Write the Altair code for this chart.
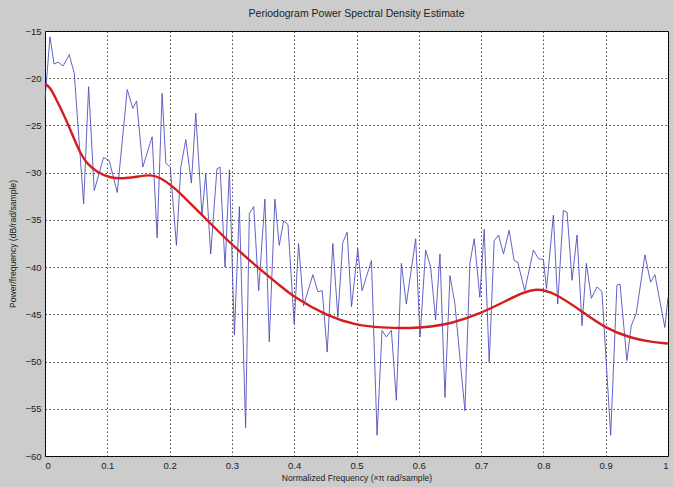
import altair as alt
import pandas as pd

# ---- data ----
blue_freq = [0.000, 0.008, 0.0145, 0.021, 0.029, 0.039, 0.047, 0.062, 0.070, 0.079,
             0.094, 0.103, 0.116, 0.132, 0.141, 0.147, 0.157, 0.172, 0.180, 0.188,
             0.194, 0.201, 0.211, 0.218, 0.226, 0.235, 0.242, 0.252, 0.258, 0.266,
             0.276, 0.281, 0.289, 0.296, 0.304, 0.312, 0.322, 0.328, 0.335, 0.343,
             0.353, 0.360, 0.369, 0.376, 0.383, 0.390, 0.400, 0.407, 0.415, 0.430,
             0.438, 0.445, 0.453, 0.462, 0.470, 0.478, 0.485, 0.492, 0.502, 0.509,
             0.524, 0.533, 0.541, 0.548, 0.556, 0.564, 0.572, 0.580, 0.595, 0.602,
             0.611, 0.619, 0.627, 0.634, 0.642, 0.650, 0.658, 0.674, 0.682, 0.689,
             0.698, 0.705, 0.713, 0.721, 0.728, 0.736, 0.745, 0.753, 0.759, 0.770,
             0.784, 0.792, 0.800, 0.805, 0.816, 0.823, 0.832, 0.838, 0.846, 0.854,
             0.862, 0.869, 0.877, 0.886, 0.894, 0.908, 0.918, 0.923, 0.934, 0.941,
             0.949, 0.963, 0.972, 0.979, 0.995, 1.000]
blue_db = [-22.3, -15.6, -18.5, -18.3, -18.7, -17.5, -19.5, -33.3, -20.9, -31.9,
           -28.4, -28.7, -32.1, -21.2, -23.2, -22.4, -29.4, -26.2, -36.9, -21.6,
           -29.0, -29.4, -37.7, -29.4, -26.5, -31.1, -23.7, -34.5, -30.1, -38.6,
           -29.6, -29.4, -40.0, -29.7, -47.2, -33.6, -57.0, -34.3, -33.6, -42.5,
           -32.8, -47.9, -32.8, -37.7, -35.1, -35.5, -46.0, -37.5, -44.1, -40.8,
           -42.6, -42.5, -49.0, -37.5, -45.3, -37.4, -36.3, -44.2, -38.1, -42.5,
           -39.3, -57.8, -46.7, -47.4, -46.7, -54.1, -39.6, -43.9, -37.0, -47.4,
           -38.2, -40.0, -45.6, -38.6, -53.8, -40.9, -43.9, -55.2, -39.6, -37.0,
           -43.2, -36.0, -50.1, -37.2, -36.6, -38.6, -36.1, -39.3, -39.5, -42.5,
           -38.2, -39.1, -39.2, -42.3, -34.5, -43.9, -34.0, -34.2, -41.4, -36.6,
           -46.2, -39.6, -43.3, -42.1, -42.6, -57.8, -41.9, -41.8, -49.9, -46.2,
           -44.9, -38.7, -41.6, -40.8, -46.4, -43.2]

red_freq = [0.000, 0.008, 0.020, 0.035, 0.056, 0.070, 0.083, 0.104, 0.131, 0.150,
            0.169, 0.185, 0.206, 0.225, 0.249, 0.275, 0.303, 0.346, 0.378, 0.400,
            0.453, 0.502, 0.539, 0.587, 0.620, 0.651, 0.700, 0.742, 0.764, 0.790,
            0.820, 0.860, 0.900, 0.940, 0.970, 1.000]
red_db = [-20.6, -20.9, -22.5, -24.5, -28.0, -29.2, -29.9, -30.6, -30.6, -30.4,
          -30.2, -30.5, -31.5, -32.7, -34.3, -36.0, -37.8, -40.3, -42.0, -43.2,
          -45.2, -46.2, -46.4, -46.5, -46.3, -46.0, -44.9, -43.5, -42.8, -42.2,
          -42.8, -44.6, -46.5, -47.5, -47.9, -48.1]

x_ticks = [0, 0.1, 0.2, 0.3, 0.4, 0.5, 0.6, 0.7, 0.8, 0.9, 1]
y_ticks = [-60, -55, -50, -45, -40, -35, -30, -25, -20, -15]

blue = pd.DataFrame({"freq": blue_freq, "db": blue_db})
red = pd.DataFrame({"freq": red_freq, "db": red_db})

FONT = "Liberation Sans, Arial, sans-serif"

x_enc = alt.X("freq:Q",
              scale=alt.Scale(domain=[0, 1], nice=False, zero=False),
              axis=alt.Axis(values=x_ticks, format=".1~f",
                            title="Normalized Frequency  (\u00d7\u03c0 rad/sample)"))
y_enc = alt.Y("db:Q",
              scale=alt.Scale(domain=[-60, -15], nice=False, zero=False),
              axis=alt.Axis(values=y_ticks, format="d",
                            title="Power/frequency (dB/rad/sample)"))

blue_line = alt.Chart(blue).mark_line(color="#4848bc", strokeWidth=1, opacity=0.85).encode(
    x=x_enc, y=y_enc)
red_line = alt.Chart(red).mark_line(color="#d41e1e", strokeWidth=2.4,
                                    interpolate="basis").encode(x="freq:Q", y="db:Q")

chart = alt.layer(blue_line, red_line).properties(
    width=623,
    height=425,
    title=alt.TitleParams("Periodogram Power Spectral Density Estimate",
                          fontSize=10.5, font=FONT, fontWeight="normal",
                          color="#222222", offset=7, anchor="middle"),
    autosize=alt.AutoSizeParams(type="none"),
    padding={"left": 45, "top": 31, "right": 5, "bottom": 31},
    background="#cccccc",
).configure_view(
    fill="white", stroke="black", strokeWidth=1
).configure_axis(
    grid=True, gridColor="#222222", gridDash=[1.5, 2.5], gridOpacity=0.85, gridWidth=1,
    domain=False, ticks=False,
    labelFont=FONT, labelFontSize=9.5, labelColor="#222222",
    titleFont=FONT, titleFontSize=8.6, titleFontWeight="normal", titleColor="#222222",
).configure_axisX(
    labelPadding=4, titlePadding=4
).configure_axisY(
    labelPadding=4, titlePadding=7
)

chart.save("out.html", embed_options={"renderer": "svg", "actions": False})
